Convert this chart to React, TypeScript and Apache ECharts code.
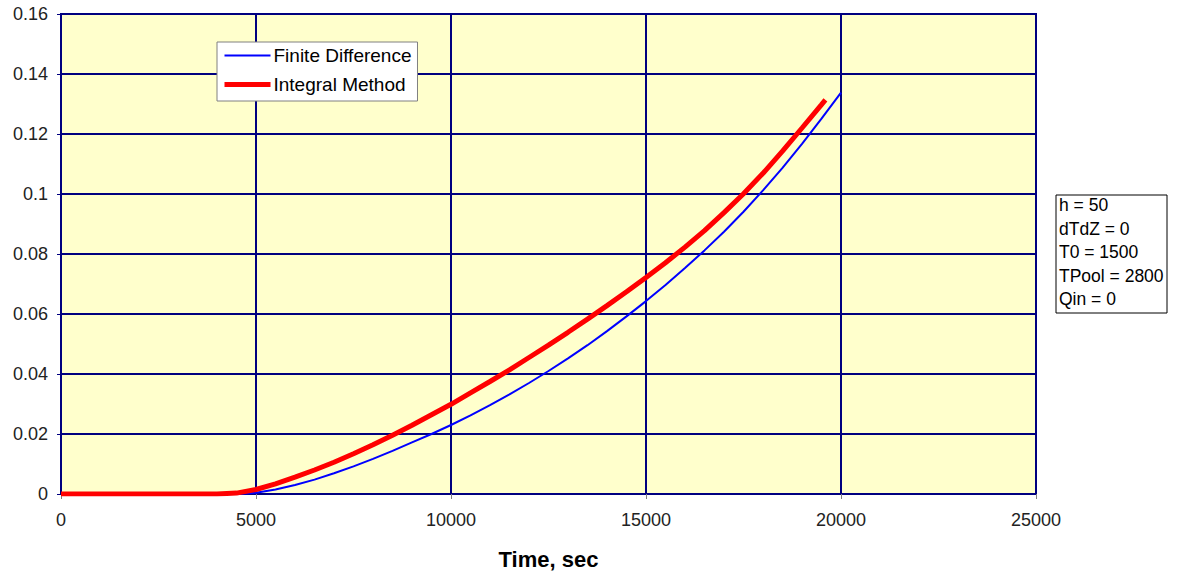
import React, { useEffect, useRef } from "react";
import * as echarts from "echarts";

// Time axis (seconds) and responses for each method
const timeFD = [
  0, 500, 1000, 1500, 2000, 2500, 3000, 3500, 4000, 4500, 5000, 5500, 6000, 6500,
  7000, 7500, 8000, 8500, 9000, 9500, 10000, 10500, 11000, 11500, 12000, 12500,
  13000, 13500, 14000, 14500, 15000, 15500, 16000, 16500, 17000, 17500, 18000,
  18500, 19000, 19500, 20000,
];
const finiteDifference = [
  0, 0, 0, 0, 0, 0, 0, 0, 0, 0, 0.0004, 0.0015, 0.003, 0.0048, 0.0069, 0.0092,
  0.0117, 0.0144, 0.0172, 0.02, 0.023, 0.0262, 0.0296, 0.0332, 0.037, 0.041,
  0.0452, 0.0496, 0.0543, 0.0592, 0.0643, 0.0697, 0.0753, 0.0812, 0.0874, 0.0941,
  0.1012, 0.1087, 0.1167, 0.1251, 0.1338,
];

const timeIM = [
  0, 500, 1000, 1500, 2000, 2500, 3000, 3500, 4000, 4500, 5000, 5500, 6000, 6500,
  7000, 7500, 8000, 8500, 9000, 9500, 10000, 10500, 11000, 11500, 12000, 12500,
  13000, 13500, 14000, 14500, 15000, 15500, 16000, 16500, 17000, 17500, 18000,
  18500, 19000, 19500, 19600,
];
const integralMethod = [
  0, 0, 0, 0, 0, 0, 0, 0, 0, 0.0003, 0.0015, 0.0034, 0.0056, 0.008, 0.0106,
  0.0134, 0.0164, 0.0196, 0.0229, 0.0264, 0.0299, 0.0337, 0.0375, 0.0414, 0.0455,
  0.0496, 0.0539, 0.0583, 0.0628, 0.0674, 0.0722, 0.0771, 0.0823, 0.0878, 0.0938,
  0.1001, 0.1069, 0.1143, 0.122, 0.1298, 0.1314,
];

const seriesNames = ["Finite Difference", "Integral Method"];
const seriesColors = ["#0000FF", "#FF0000"];
const seriesWidths = [2, 5];
const paramLabels = ["h = 50", "dTdZ = 0", "T0 = 1500", "TPool = 2800", "Qin = 0"];

const FONT = '"Liberation Sans", Arial, sans-serif';
const NAVY = "#000080";

function pairs(xs: number[], ys: number[]) {
  return xs.map((x, i) => [x, ys[i]]);
}

export default function App() {
  const ref = useRef<HTMLDivElement>(null);

  useEffect(() => {
    if (!ref.current) return;
    const chart = echarts.init(ref.current, null, { renderer: "svg" });
    chart.setOption({
      animation: false,
      backgroundColor: "#ffffff",
      textStyle: { fontFamily: FONT },
      grid: {
        left: 61,
        top: 14,
        width: 975,
        height: 481,
        show: true,
        backgroundColor: "#FFFFCC",
        borderColor: NAVY,
        borderWidth: 2,
      },
      legend: {
        left: 217,
        top: 42,
        orient: "vertical",
        backgroundColor: "#ffffff",
        borderColor: "#808080",
        borderWidth: 1,
        borderRadius: 0,
        padding: [4, 6, 7, 5],
        itemWidth: 46,
        itemHeight: 14,
        itemGap: 10,
        itemStyle: { opacity: 0 },
        textStyle: { fontFamily: FONT, fontSize: 19, color: "#000", padding: [0, 0, 0, -2] },
        data: seriesNames.map((name, i) => ({
          name,
          lineStyle: { color: seriesColors[i], width: seriesWidths[i] },
        })),
      },
      xAxis: {
        type: "value",
        min: 0,
        max: 25000,
        interval: 5000,
        name: "Time, sec",
        nameLocation: "middle",
        nameGap: 54,
        nameTextStyle: { fontFamily: FONT, fontSize: 22, fontWeight: "bold", color: "#000" },
        axisLine: { show: true, lineStyle: { color: NAVY, width: 2 } },
        axisTick: { show: true, length: 5, lineStyle: { color: "#808080", width: 1 } },
        axisLabel: {
          fontFamily: FONT,
          fontSize: 18,
          color: "#222",
          margin: 17,
          formatter: (v: number) => String(v),
        },
        splitLine: { show: true, lineStyle: { color: NAVY, width: 2 } },
      },
      yAxis: {
        type: "value",
        min: 0,
        max: 0.16,
        interval: 0.02,
        axisLine: { show: true, lineStyle: { color: NAVY, width: 2 } },
        axisTick: { show: true, length: 4, lineStyle: { color: NAVY, width: 1 } },
        axisLabel: {
          fontFamily: FONT,
          fontSize: 18,
          color: "#222",
          margin: 13,
          formatter: (v: number) => String(+v.toFixed(2)),
        },
        splitLine: { show: true, lineStyle: { color: NAVY, width: 2 } },
      },
      series: [
        {
          name: seriesNames[0],
          type: "line",
          data: pairs(timeFD, finiteDifference),
          symbol: "none",
          lineStyle: { color: seriesColors[0], width: seriesWidths[0] },
          itemStyle: { color: seriesColors[0] },
        },
        {
          name: seriesNames[1],
          type: "line",
          data: pairs(timeIM, integralMethod),
          symbol: "none",
          lineStyle: { color: seriesColors[1], width: seriesWidths[1] },
          itemStyle: { color: seriesColors[1] },
        },
      ],
      graphic: [
        {
          type: "rect",
          shape: { x: 1056, y: 195, width: 111, height: 118 },
          style: { fill: "#ffffff", stroke: "#000000", lineWidth: 1 },
        },
        {
          type: "text",
          x: 1059,
          y: 193.5,
          style: {
            text: paramLabels.join("\n"),
            font: `17.5px ${FONT}`,
            lineHeight: 23.5,
            fill: "#000000",
          },
        },
      ],
    });
    return () => chart.dispose();
  }, []);

  return (
    <div
      ref={ref}
      style={{ position: "fixed", left: 0, top: 0, width: 1182, height: 575, background: "#fff" }}
    />
  );
}
